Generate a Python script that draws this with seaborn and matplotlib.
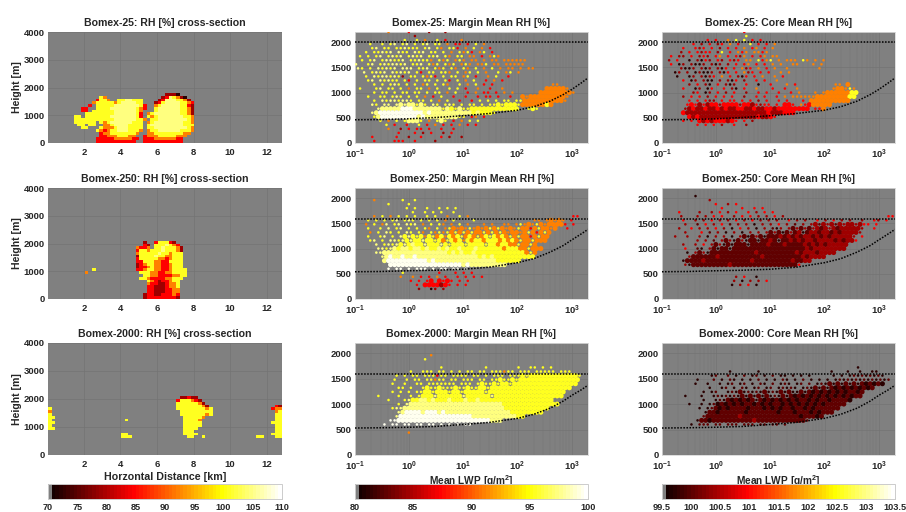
import numpy as np
import pandas as pd
import matplotlib
matplotlib.use("Agg")
import matplotlib.pyplot as plt
from matplotlib.cm import ScalarMappable
from matplotlib.colors import ListedColormap, Normalize
from matplotlib.ticker import LogLocator, NullFormatter
import seaborn as sns

# Values are read off the reference as a coarse grid. Each letter is the RH band
# seen in one grid cell: k black, b brown-black, d dark red, r red, o orange,
# y yellow, l pale yellow, w white. Upper case marks a densely filled cell,
# blank marks no data.
BAND_FRACTION = {"k": .05, "b": .13, "d": .22, "r": .36, "o": .55, "y": .77, "l": .87, "w": .97}


def sp(n):
    return " " * n


# Cross-sections: rows listed from the top height down, cells 100 m x 0.2 km.
XS_25 = [
sp(32) + "dDDk",
sp(14) + "YO" + sp(15) + "dRLYOdk",
sp(13) + "RYYO" + sp(2) + "YYLLYYY" + sp(4) + "dRLLLYYOd",
sp(12) + "OYYYYYOYLLLLYY" + sp(3) + "dRYLLLLYYOR",
sp(11) + "R" + sp(1) + "YYYYYLLLLLLLYR" + sp(2) + "OYLLLLLYYRD",
sp(9) + "RR" + sp(2) + "YYYYLLLLLLLYOR" + sp(2) + "YLLLLLLYYOD",
sp(9) + "RR" + sp(1) + "YYYYYYLLLLLLYO" + sp(3) + "YLLLLLLYYOD",
sp(10) + "YYYYYYYYLLLLLLYR" + sp(1) + "OYLLLLLLLYYOd",
sp(7) + "YY" + sp(1) + "YYYYYYYLLLLLLLYR" + sp(1) + "YOYLLLLLLLYYO",
sp(7) + "YYYYYYYYYYYLLLLLLYYO" + sp(1) + "YYLLLLLLLLYO",
sp(7) + "YYYYYY" + sp(1) + "YOYLLLLLLYYY" + sp(1) + "OYLLLLLLLLYYO",
sp(8) + "YY" + sp(1) + "YY" + sp(2) + "OOYLLLLYYYY" + sp(1) + "YLLLLLLLLLYYY",
sp(9) + "YY" + sp(3) + "YOOOYLLLYYYY" + sp(1) + "YYLLLLLLLLLYO",
sp(13) + "YOROYYLLLYYYO" + sp(1) + "OYYLLLLLLYYYO",
sp(14) + "ROOYYYYYYYO" + sp(2) + "OOYYYYYYYYOO",
sp(14) + "RROOOYYYOO" + sp(2) + "ROOOYYYYYOOO",
sp(13) + "RRRRROOOOORR" + sp(1) + "RRROOOOOORR",
sp(13) + "RRRRRRRRRRR" + sp(2) + "RRRRRRRRRRR",
]
XS_25_TOP = 1700
XS_250 = [
sp(26) + "D" + sp(2) + "RYYYRd",
sp(26) + "RD" + sp(1) + "YYYLYOR",
sp(24) + "ORRO" + sp(1) + "YYLYYYOd",
sp(24) + "RYYOYYYLYYYOd",
sp(24) + "OYYYYYLYYOYYY",
sp(24) + "DYYYYLYYOOYYY",
sp(24) + "RYYYYYOOROYYY",
sp(24) + "RRYYYOORRYYYY",
sp(24) + "dROYYOORROYYY",
sp(24) + "dRROYOORROYYY",
sp(12) + "Y" + sp(11) + "RROYYOORROYYYY",
sp(10) + "O" + sp(14) + "YYYOORROOYYYY",
sp(26) + "YYOORRRROOYY",
sp(25) + "YYORRRROOYYY",
sp(27) + "YORDRROYY",
sp(27) + "ORRDDROOY",
sp(27) + "RRDDDROOY",
sp(27) + "RRDDDRROO",
sp(27) + "RRDDDRROO",
sp(26) + "DRRDDRRROR",
sp(26) + "DRRRRRRRRd",
]
XS_250_TOP = 2000
XS_2000 = [
sp(36) + "dDRDd",
sp(35) + "RYYYORd",
sp(35) + "YYYYYYOD",
sp(35) + "YYYYYYYOd" + sp(18) + "Rd",
"Y" + sp(34) + "YYYYYYYYOY" + sp(16) + "ROO",
"O" + sp(35) + "YYYYYYYYY" + sp(17) + "OYY",
"Y" + sp(35) + "YYYYYYYOY" + sp(17) + "YYY",
"YY" + sp(35) + "YYYYYO" + sp(19) + "YYY",
"Y" + sp(20) + "Y" + sp(15) + "YYYYO" + sp(20) + "YYY",
"YY" + sp(35) + "YYYYY" + sp(19) + "YYY",
"Y" + sp(36) + "YYYYY" + sp(20) + "YY",
"YY" + sp(35) + "YYYY" + sp(21) + "YY",
"" + sp(37) + "YYY" + sp(22) + "YY",
sp(20) + "YY" + sp(15) + "YYYY" + sp(20) + "YYY",
sp(20) + "YYY" + sp(15) + "YY" + sp(2) + "Y" + sp(14) + "YY" + sp(3) + "YY",
]
XS_2000_TOP = 2000

# Scatter panels: rows from 2160 m down in 80 m steps, columns 0.075 decades of LWP from 0.1.
MARGIN_25 = [
"        o    r    d   d",
"              d",
"            y  y o  y r   o",
"   y  y yl yl y yl yy o rr r y o",
"    yl yy yylyyy yl yo yyr o y o r",
"  y yylyl lyy lyl yy y o yoyr oy r",
" y y yl ylyl ylyl yyl yo yy oo r oyo",
" y yl yllyyl yylyyo yoy oyo oo o oo oooooo",
"l  yl ylyllyl yyl yoy yoy oyo ooy oo ooooo",
"ly y lylyl lll yyl yoy yo yo y o y o oo o oo",
"  l ylyl lylyl yr yy yyo y oy y o  y oy o",
"  y lyllylyd yy yoyr y yy oy r  o y  r",
"   yl lylyy yr y yy y yr y o y  r o r",
"    y y yly y y oy y yo  y o y r r              oo",
" y   yl yy y o yy o y  y y r  o  r  o          OOOOOo",
"    y yy y yy yy y yy o y  r o rr r o o      OOOOOOOOo",
"   y  yy yly y y o r y  r  r  r rr r  r  OoOOOOOOOOOo",
"    y lyllylly yy y o y  r  r y y y yy yyOOOOOOOOOOo",
"    ly ll lLlLLyLy ly yly y yy y yyYyYYYyOOOOOOYO",
"     lLLLLLWWWLLLLLLLyLYyLyyYYYYYYYYYYYY  yYy",
"    lLWWWWWWWWWWWLWLLLLLLLLLLYLYYYy",
"    yLWWWWWWWWWLWLLLLLLLLyy ro r",
"      y o y yLLLy o yLy r o y y",
"       y r  r  y r o r r o r r",
"        o  d r rr r  r  r",
"          r   r d r  d r",
"    r     r  d  r    r d  d",
"    r    rrr  r    d",
]
CORE_25 = [
"                    r",
"                    y",
"           r r  o y y r r",
"       r d r dr o r  y r r o",
"     r  rdr r d r r o ro r o",
"    d r rdrr dy r oro ooro",
"  r dd r drd ro r rdo r ro oo",
" d r  k dkrd rd rdr oo yroy o ooo yo o o",
"  r kd dkkd dkd d r ro r r o o  oo   o o",
"    dkkd dkd dkr r odr o r o  o       o",
"   kd d kdkkd dkr r odr r r  o o",
"   k  kd dkdr o r dkr r o  o r",
"     r kd dkk d dkr d  r r  o",
"      d r dk r dkd  r  k  r   o r         oo O",
"     r  kd kr  r dk r  o   r  r  o        oOOoyo",
"       dr kd r d r  d  r r  r  r o   o oOOOOOOYY",
"     d r r d r r r  d  r r  r o ooooooOOOOOOOOYY",
"      r r rdd r rr r r d r  r r   r OOOOOOOOOO",
"      rRrDrDRRdRRRRdRRDrdrr r RRr orROOOOO",
"     dDRDDRDDRDRDDRRDDRDDRRDRRRRRRRR rrO",
"     RDDDDDDDDDDDDDDDDDDDDRDDDRRR",
"      RDRDDDDDDDDDDDDDDRDDRr",
"     r r RDRDRRRDRr r d",
"        r r r d  r  d",
"",
"",
"",
"",
]
MARGIN_250 = [
"",
"",
"",
"    o      y  y",
"        y    y",
"            y y  y  y y y",
"              y  y y y  y",
"    o y o y y y  y y  o  y o" + sp(25) + "rr",
"   y y y yl yly y y y o y    y" + sp(14) + "oo oOoOo r",
"  o y ol yl lyl o y yo o y o   o o" + sp(2) + "oo oyoOoyOoOOOOr r",
"   y  y l yl y y yo y oy" + "OoOoyoOoOyOyOoOoyOOrOyOOoO  r",
"   o y ly y ly yo yoyo" + "yOyOyOyOOyOyOyOoOOoOyOrOyO",
"   y  yl y lYlYyYoYyOY" + "oYOYyOYOyOYyYOYOyOyOOrOyOO",
"   yl y llylYlYYlYYyYOy" + "YOYoYOYYOYYYOYOYOyOOyOOO",
"     l ylylYlYLYYlYYYlYy" + "YYYyYYYYyYYOYYOOyOOyO",
"     llylLYLLYLLYLYYLYLYY" + "LYYYLYYYYYYOYYYOOyOOO",
"     llLLLLLLLLLLLLLLLLYLY" + "LYYLYYYYYYYYYYYYOyO",
"      lLWLLWLLWLLLLLLLLLLLLL" + "LLYLYLYYYYYYYYYY",
"       LWWWWWWWWWWLWLLLLLLL" + "LLLLLLLLYYYYYY",
"        WWWWWWWWWWWWWWWWWWLWLLLLLLLLL",
"        w ww w www w ww ww w",
"           y        r   r r r",
"           o  o r r o r  r r r r",
"             r r rR RrRr r r",
"               r RRRRDRr r r",
"               d  kd d",
"",
"",
]
CORE_250 = [
"",
"",
"        k",
"           d",
"             r  d r",
"              r    r  r r",
"    r    d  d r d r  r d r r",
"    d   d d r r  d r r d d r d" + sp(25) + "rr",
"     r  d d r d d r d r d d d  r d d  r d r d d  d  rd r",
"     d  b r d r b d d k d d r d b d dDbDdDbDdDDdDrr r",
"    d  r d d r d k r d k d bkd dBdBdBdDBDdDBDDDDDd  r",
"     d   r b d k d k d d dBdBkBdBDkBDDBDDBDBDDDDd",
"   d  d  d k d d k dBkBdBkBBBDBDBDBDDBDBDBDDDDDd r",
"        d d b dBdkBdkBBkBBDBkBBDBDBDDBDDDDBDBDDr",
"     d  d r dBdkBkBBBkBBBBDBBBDBBBBDBDBDBDDDDD",
"     r  bk dBkBBkBBBBBBBBBBBBBBBBBBDBDDDDDDDD",
"      k dBdkBBBBBBBBBBBDBBBBBBBBBDBDDDBDDDD",
"      dBBBBBBDBBBBBBBBBBDBBBBBBBBBDBDDDD",
"     kBBBBDBBBBBBBBBBBDBBBBBBBBBDBBDD",
"     dkBBBBBBBBBDBBBBBBBBBBBBBBBBr",
"",
"",
"                  d r  k",
"                 d k d d r",
"                 k d r k",
"",
"",
"",
]
MARGIN_2000 = [
"",
"",
"",
"                  o",
"                 y",
"",
"                     y          y       y  yy y y",
"             y  yyy yy y y yy yy yyyoyy yyy yyyyy yyy",
"          y y yy yyyryy yyyy yy y yyy yyyYyYYYYYYYYYYYYy",
"         y  y yy yyoyy yy yyy yy yyYyyYyYYYYYYYYYYYYYYY",
"         y  y  yy yyyyyyy yyy yYyyYyYYyYYYYYYYYYYYYYYYY",
"          yy y  yYyyYyyyYyyYyyYYyYYYYYYYYYYYYYYYYYYYY",
"         y y y yyYYyYYYyYYyYYYYYyYYYYYYYYYYYYYYYYYYY",
"     y    y  y yYYYlYYYYYYlYYYYYYlYYYYYYYYYYYYYYYYY",
"        y   ylYYLLYLYYYLYYYLYYLYYYYYYYYYYYYYYYYYY",
"          y lLLLLLLLLLLLLLLLLLLLLLLLYYYYYYYYYYYYYY",
"         yllLLLLLLLLLLLLLLLLLLLLLLLLLYYYYYYYYYYY",
"          lLWWWWLWWWLWLLLLLLLLLLLLLLLLYYYYYYYY",
"          lWWWWWWWWWWWWWWWWWWLLLLLLLLLLLYY",
"        wwWWWWWWWWWWWWWWWWWWWWWWWLLL",
"       w ww ww ww ww w w w ww ",
"",
"             o",
"",
"",
"",
"",
"",
]
CORE_2000 = [
"",
"",
"",
"",
"",
"",
"                                                k",
"                k      k                 k   k  k  kk",
"            kb  b k b kb k b kk k k k     k k kbkbkbkbk",
"        k   b k bk k k b k k bk k b k k k kbkbkbkbkbkbkb",
"        k  k  k kb kb k bk b kbk kb b kbkBkBkBkBkBKBKBK",
"           k  kb k bk kb kb kbkbk kbkBkBkBKBKBKBKBKB",
"          k kb  kbkBkbkbkBkbkBkBkkBkBKBKBKBKBKBBKB",
"     k   k  kbkbkbkBkBkBkBkbkBkBKBKBKBKBKBKBKBKBB",
"          k  kbkBKBKBKBkBKBKBKBKBKBBKBKBBKBBBBK",
"      k  k kbKBKBKBKBBKBKBKBBKBKBKBKBKBKBBBBB",
"         k kbBKBKBBBBKBBBKBKBKBBKBBKBKBBBBBB",
"          kBBKBBBBBBKBBBBBBBKBBBKBBBKBKBBB",
"          bBBBBBBBBDBBBBBBBBBBBBBBKBBBKB",
"        kBBKBBBBBBBBBBDBBBBBBBBBBBBb",
"       k bbb bb bbb bbb bb bb b",
"",
"",
"",
"",
"",
"",
"",
]

SCATTER_TOP = 2160
SCATTER_STEP = 80
LWP_COL_DECADES = 0.075

# Dotted reference lines
CURVE_LWP = [0.1, 0.3, 1, 3, 10, 30, 100, 200, 400, 700, 1000, 1500, 2000]
CURVE_25 = [460, 465, 480, 505, 540, 585, 650, 720, 830, 960, 1060, 1190, 1290]
CURVE_250 = [540, 545, 560, 570, 590, 630, 720, 800, 930, 1060, 1170, 1290, 1380]
CURVE_2000 = [530, 535, 545, 560, 600, 640, 720, 800, 920, 1060, 1170, 1280, 1370]
TOP_LINES = [2000, 1580, 1600]

RUNS = ["Bomex-25", "Bomex-250", "Bomex-2000"]
XS_RANGE = (70, 110)
MARGIN_RANGE = (80, 100)
CORE_RANGE = (99.5, 103.5)
XS_TICKS = [70, 75, 80, 85, 90, 95, 100, 105, 110]
MARGIN_TICKS = [80, 85, 90, 95, 100]
CORE_TICKS = [99.5, 100, 100.5, 101, 101.5, 102, 102.5, 103, 103.5]
CORE_TICKLABELS = ["99.5", "100", "100.5", "101", "101.5", "102", "102.5", "103", "103.5"]

W, H = 906, 512
TXT = "#262626"
BG = "#808080"
GRID = "#747474"

sns.set_theme(style="white")
plt.rcParams["font.family"] = ["Liberation Sans", "DejaVu Sans"]
plt.rcParams["font.weight"] = "bold"
plt.rcParams["axes.titleweight"] = "bold"
plt.rcParams["axes.labelweight"] = "bold"
plt.rcParams["mathtext.fontset"] = "custom"
plt.rcParams["mathtext.rm"] = "Liberation Sans:bold"
plt.rcParams["mathtext.default"] = "rm"

hot = matplotlib.colormaps["hot"].resampled(64)(np.linspace(0, 1, 64))
hot[0] = matplotlib.colors.to_rgba(BG)
CMAP = ListedColormap(hot)

fig = plt.figure(figsize=(W / 100, H / 100), dpi=100, facecolor="white")


def px_axes(x0, y0, x1, y1):
    return fig.add_axes([x0 / W, 1 - y1 / H, (x1 - x0) / W, (y1 - y0) / H])


def style(ax, title):
    ax.set_facecolor(BG)
    for s in ax.spines.values():
        s.set_color("#d8d8d8")
        s.set_linewidth(0.6)
    ax.set_title(title, fontsize=7.6, color=TXT, pad=4.5, fontweight="bold")
    ax.tick_params(axis="both", which="major", direction="in", length=2, width=0.5,
                   color="#404040", labelsize=6.8, labelcolor=TXT, pad=2.5)
    ax.tick_params(axis="x", which="major", pad=3.5)
    ax.grid(True, which="major", color=GRID, lw=0.5)
    ax.set_axisbelow(True)


def decode_xs(rows, top):
    nrow, ncol = 40, 64
    vmin, vmax = XS_RANGE
    grid = np.full((nrow, ncol), np.nan)
    for i, row in enumerate(rows):
        r = top // 100 - i
        for c, ch in enumerate(row[:ncol]):
            if ch != " ":
                grid[r, c] = vmin + BAND_FRACTION[ch.lower()] * (vmax - vmin)
    return grid


def draw_xs(ax, rows, top, title, xlabel=None):
    grid = decode_xs(rows, top)
    sns.heatmap(grid, ax=ax, cmap=CMAP, vmin=XS_RANGE[0], vmax=XS_RANGE[1], cbar=False,
                mask=np.isnan(grid), xticklabels=False, yticklabels=False)
    ax.set_ylim(0, 40)
    ax.set_xlim(0, 64)
    ax.set_xticks([(k - 0.04) / 0.2 for k in range(2, 13, 2)], [str(k) for k in range(2, 13, 2)], rotation=0)
    ax.set_yticks([0, 10, 20, 30, 40], ["0", "1000", "2000", "3000", "4000"], rotation=0)
    style(ax, title)
    ax.set_ylabel("Height [m]", fontsize=7.6, color=TXT, labelpad=1, fontweight="bold")
    ax.set_xlabel(xlabel or "", fontsize=7.7, color=TXT, labelpad=2, fontweight="bold")


def decode_scatter(rows, rng):
    vmin, vmax = rng
    recs = []
    for i, row in enumerate(rows):
        height = SCATTER_TOP - SCATTER_STEP * i
        shift = 0.5 if i % 2 else 0.0
        for c, ch in enumerate(row):
            if ch == " ":
                continue
            recs.append({
                "lwp": 10 ** (-1 + (c + shift + 0.25) * LWP_COL_DECADES),
                "height": height + 40,
                "rh": vmin + BAND_FRACTION[ch.lower()] * (vmax - vmin),
                "fill": "dense" if ch.isupper() else "sparse",
            })
    return pd.DataFrame(recs)


def draw_scatter(ax, rows, rng, curve, top_line, title, xlabel=None):
    df = decode_scatter(rows, rng)
    sns.scatterplot(data=df, x="lwp", y="height", hue="rh", hue_norm=rng, palette=CMAP,
                    size="fill", sizes={"dense": 13, "sparse": 3.4}, size_order=["dense", "sparse"],
                    linewidth=0, legend=False, ax=ax, zorder=3)
    curve_df = pd.DataFrame({"lwp": CURVE_LWP, "height": curve})
    sns.lineplot(data=curve_df, x="lwp", y="height", color="black", lw=1.1, ax=ax, zorder=5,
                 dashes=False, linestyle=(0, (1, 1)))
    ax.axhline(top_line, color="black", lw=1.1, ls=(0, (1, 1)), zorder=5)
    ax.set_xscale("log")
    ax.set_xlim(0.1, 2000)
    ax.set_ylim(0, 2200)
    ax.set_yticks([0, 500, 1000, 1500, 2000])
    ax.xaxis.set_major_locator(LogLocator(base=10, numticks=8))
    ax.xaxis.set_minor_locator(LogLocator(base=10, subs=np.arange(2, 10), numticks=12))
    ax.xaxis.set_minor_formatter(NullFormatter())
    style(ax, title)
    ax.grid(True, which="minor", axis="x", color=GRID, lw=0.35)
    ax.tick_params(axis="x", which="minor", direction="in", length=1, width=0.4, color="#404040")
    ax.set_ylabel("")
    ax.set_xlabel(xlabel or "", fontsize=7.3, color=TXT, labelpad=-0.3, fontweight="bold")


def draw_cbar(x0, x1, rng, ticks, labels=None):
    cax = px_axes(x0, 484, x1, 499)
    cb = fig.colorbar(ScalarMappable(Normalize(*rng), CMAP), cax=cax, orientation="horizontal")
    cb.set_ticks(ticks, labels=labels if labels else [str(t) for t in ticks])
    cb.ax.tick_params(direction="in", length=1.5, width=0.4, color="#404040",
                      labelsize=6.6, labelcolor=TXT, pad=3)
    cb.outline.set_edgecolor("#cccccc")
    cb.outline.set_linewidth(0.7)


ROW_Y = [(32, 143), (188, 299), (343, 455)]
COL_X = [(48, 282), (355, 588), (662, 895)]
XS_DATA = [(XS_25, XS_25_TOP), (XS_250, XS_250_TOP), (XS_2000, XS_2000_TOP)]
MARGIN_DATA = [MARGIN_25, MARGIN_250, MARGIN_2000]
CORE_DATA = [CORE_25, CORE_250, CORE_2000]
CURVES = [CURVE_25, CURVE_250, CURVE_2000]

for r, run in enumerate(RUNS):
    y0, y1 = ROW_Y[r]
    last = r == 2
    draw_xs(px_axes(COL_X[0][0], y0, COL_X[0][1], y1), XS_DATA[r][0], XS_DATA[r][1],
            f"{run}: RH [%] cross-section", xlabel="Horzontal Distance [km]" if last else None)
    draw_scatter(px_axes(COL_X[1][0], y0, COL_X[1][1], y1), MARGIN_DATA[r], MARGIN_RANGE, CURVES[r],
                 TOP_LINES[r], f"{run}: Margin Mean RH [%]",
                 xlabel=r"Mean LWP [g/m$^2$]" if last else None)
    draw_scatter(px_axes(COL_X[2][0], y0, COL_X[2][1], y1), CORE_DATA[r], CORE_RANGE, CURVES[r],
                 TOP_LINES[r], f"{run}: Core Mean RH [%]",
                 xlabel=r"Mean LWP [g/m$^2$]" if last else None)

draw_cbar(*COL_X[0], XS_RANGE, XS_TICKS)
draw_cbar(*COL_X[1], MARGIN_RANGE, MARGIN_TICKS)
draw_cbar(*COL_X[2], CORE_RANGE, CORE_TICKS, CORE_TICKLABELS)

fig.savefig("out.png", dpi=100, facecolor="white")
